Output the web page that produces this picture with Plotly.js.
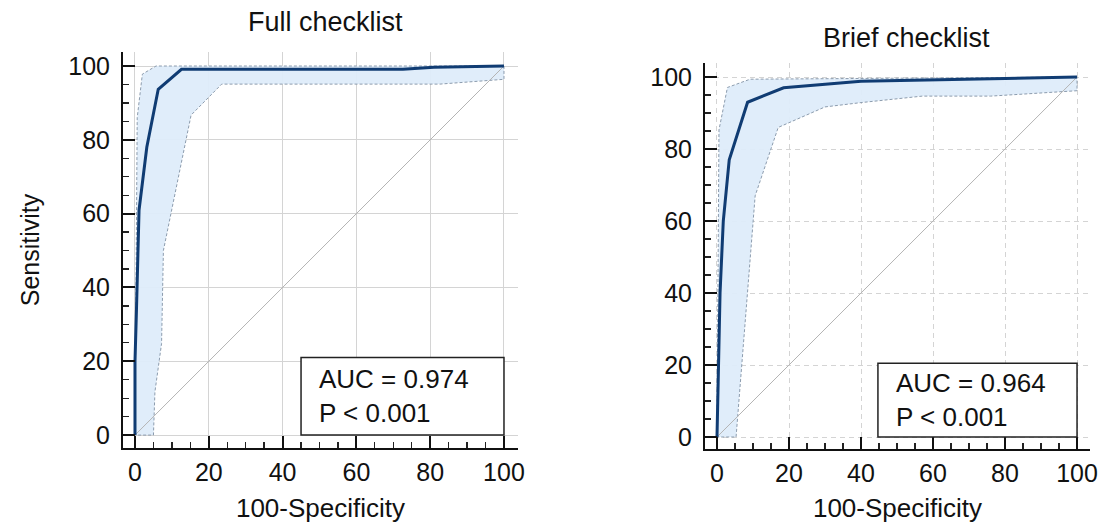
<!DOCTYPE html>
<html>
<head>
<meta charset="utf-8">
<script src="https://cdn.plot.ly/plotly-3.0.1.min.js"></script>
<style>html,body{margin:0;padding:0;background:#fff;}#chart{width:1099px;height:523px;}</style>
</head>
<body>
<div id="chart"></div>
<script>
// ---------- Data ----------
// Full checklist
const fullMainX  = [0, 0, 0.4, 1.1, 3.2, 6.3, 12.6, 72.6, 81, 100];
const fullMainY  = [0, 20, 34, 61, 78, 93.7, 99.1, 99.1, 99.7, 100];
const fullUpperX = [0, 0.2, 0.6, 2.0, 5.7, 100];
const fullUpperY = [0, 30, 86, 97.8, 100, 100];
const fullLowerX = [0, 5.0, 5.4, 7.2, 7.7, 15.2, 23.5, 82.6, 100];
const fullLowerY = [0, 0, 11.7, 24.8, 50, 86.7, 95.1, 95.1, 96.4];
// Brief checklist
const briefMainX  = [0, 0.4, 0.85, 1.75, 3.4, 8.5, 18.5, 40, 100];
const briefMainY  = [0, 20.5, 40, 60, 77, 93, 97, 98.8, 100];
const briefUpperX = [0, 0.3, 0.55, 2.9, 9.2, 100];
const briefUpperY = [0, 40, 85.3, 97.1, 99.4, 100];
const briefLowerX = [0, 5.3, 10.6, 17, 30, 40, 57, 76, 100];
const briefLowerY = [0, 0, 67, 86, 91.7, 92.9, 94.7, 94.7, 96.2];
// Reference diagonal
const diagX = [0, 100];
const diagY = [0, 100];
// Texts
const panelTitles = ["Full checklist", "Brief checklist"];
const aucTexts = ["AUC = 0.974<br>P &lt; 0.001", "AUC = 0.964<br>P &lt; 0.001"];
const tickVals = [0, 20, 40, 60, 80, 100];
const tickText = ["0", "20", "40", "60", "80", "100"];
const xTitle = "100-Specificity";
const yTitle = "Sensitivity";

// ---------- Styles ----------
const mainColor = "rgb(16,60,115)";
const fillColor = "rgba(222,236,250,0.95)";
const ciLine = "rgb(140,156,174)";
const diagColor = "rgb(180,180,180)";
const FONT = "Liberation Sans, Arial, sans-serif";

function band(ux, uy, lx, ly, xa, ya) {
  return {
    x: ux.concat(lx.slice().reverse()),
    y: uy.concat(ly.slice().reverse()),
    xaxis: xa, yaxis: ya, type: "scatter", mode: "lines",
    fill: "toself", fillcolor: fillColor,
    line: {color: ciLine, width: 1, dash: "3px,2px"},
    hoverinfo: "skip"
  };
}
function diag(xa, ya) {
  return {x: diagX, y: diagY, xaxis: xa, yaxis: ya, type: "scatter", mode: "lines",
          line: {color: diagColor, width: 1}, hoverinfo: "skip"};
}
function main(x, y, xa, ya) {
  return {x: x, y: y, xaxis: xa, yaxis: ya, type: "scatter", mode: "lines",
          line: {color: mainColor, width: 3}};
}

const data = [
  band(fullUpperX, fullUpperY, fullLowerX, fullLowerY, "x", "y"),
  diag("x", "y"),
  main(fullMainX, fullMainY, "x", "y"),
  band(briefUpperX, briefUpperY, briefLowerX, briefLowerY, "x2", "y2"),
  diag("x2", "y2"),
  main(briefMainX, briefMainY, "x2", "y2")
];

const W = 1099, H = 523;
function ax(domain, range, anchor, griddash, extra) {
  return Object.assign({
    domain: domain, range: range, anchor: anchor,
    tickmode: "array", tickvals: tickVals, ticktext: tickText,
    ticks: "inside", ticklen: 12, tickwidth: 2, tickcolor: "#111",
    showline: true, linewidth: 2, linecolor: "#111",
    showgrid: true, gridcolor: "#d4d4d4", gridwidth: 1, griddash: griddash,
    zeroline: false,
    minor: {ticks: "inside", dtick: 5, tick0: 0, ticklen: 6, tickwidth: 1.3, tickcolor: "#222", showgrid: false},
    tickfont: {size: 25, color: "#111", family: FONT},
    ticklabelstandoff: 1,
    fixedrange: true
  }, extra || {});
}

const layout = {
  width: W, height: H,
  margin: {l: 0, r: 0, t: 0, b: 0},
  paper_bgcolor: "#fff", plot_bgcolor: "#fff",
  showlegend: false,
  font: {family: FONT, color: "#111"},
  xaxis: ax([123 / W, 518 / W], [-3.25, 103.8], "y", "solid",
            {title: {text: xTitle, font: {size: 26, family: FONT, color: "#111"}, standoff: 16}}),
  yaxis: ax([(H - 448) / H, (H - 52) / H], [-3.5, 103.8], "x", "solid",
            {title: {text: yTitle, font: {size: 25, family: FONT, color: "#111"}, standoff: 22}, ticklabelstandoff: 6}),
  xaxis2: ax([705 / W, 1090 / W], [-3.33, 103.6], "y2", "5px,4px",
            {title: {text: xTitle, font: {size: 26, family: FONT, color: "#111"}, standoff: 16}}),
  yaxis2: ax([(H - 449) / H, (H - 63) / H], [-3.33, 103.9], "x2", "5px,4px", {ticklabelstandoff: 6}),
  shapes: [
    {type: "rect", xref: "x", yref: "y", x0: 45, x1: 100, y0: 0, y1: 21,
     line: {color: "#222", width: 1.5}, fillcolor: "#fff", layer: "above"},
    {type: "rect", xref: "x2", yref: "y2", x0: 44.7, x1: 100, y0: 0, y1: 20.5,
     line: {color: "#222", width: 1.5}, fillcolor: "#fff", layer: "above"}
  ],
  annotations: [
    {text: panelTitles[0], xref: "paper", yref: "paper", x: 325 / W, y: 1 - 22 / H,
     xanchor: "center", yanchor: "middle", showarrow: false, font: {size: 27, family: FONT, color: "#111"}},
    {text: panelTitles[1], xref: "paper", yref: "paper", x: 906 / W, y: 1 - 38 / H,
     xanchor: "center", yanchor: "middle", showarrow: false, font: {size: 27, family: FONT, color: "#111"}},
    {text: aucTexts[0], xref: "x", yref: "y", x: 49.3, y: 10.6, xanchor: "left", yanchor: "middle",
     align: "left", showarrow: false, font: {size: 26, family: FONT, color: "#111"}},
    {text: aucTexts[1], xref: "x2", yref: "y2", x: 49.2, y: 10.3, xanchor: "left", yanchor: "middle",
     align: "left", showarrow: false, font: {size: 26, family: FONT, color: "#111"}}
  ]
};

Plotly.newPlot("chart", data, layout, {displayModeBar: false, staticPlot: true});
</script>
</body>
</html>
